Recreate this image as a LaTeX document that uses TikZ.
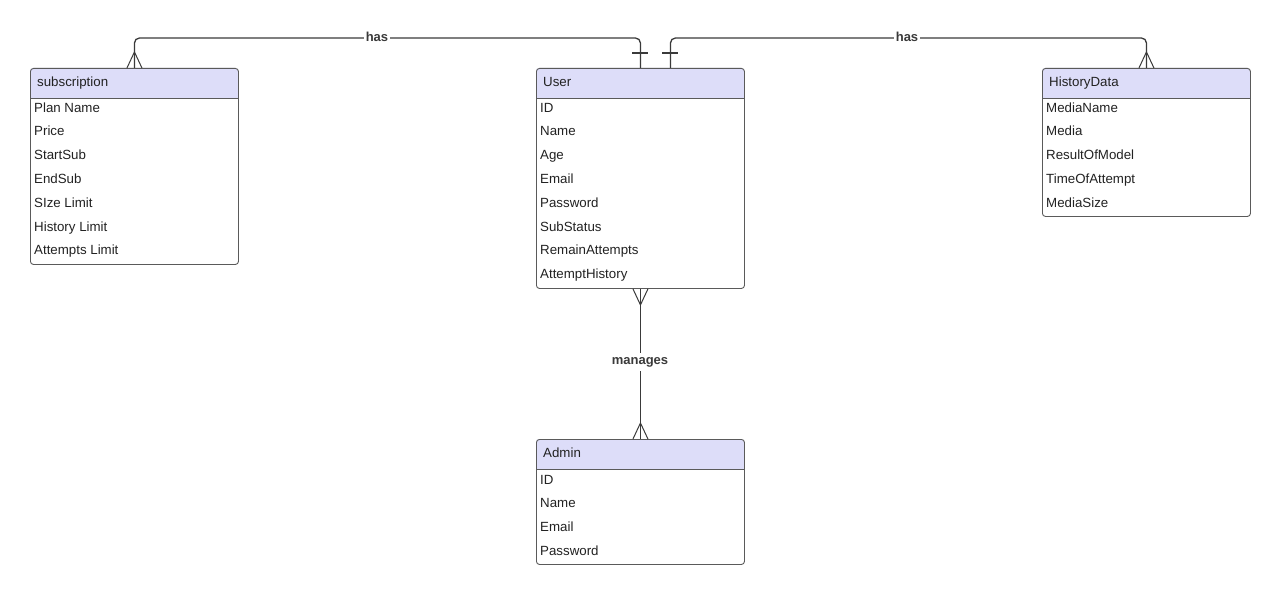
\documentclass[tikz,border=0pt]{standalone}
\usepackage{fontspec}
\setmainfont{Liberation Sans}
\usetikzlibrary{calc}
\definecolor{hdrfill}{HTML}{DDDDF9}
\definecolor{boxline}{HTML}{5A5A5A}
\definecolor{relline}{HTML}{3A3A3A}
\definecolor{txt}{HTML}{222222}
\tikzset{
  entframe/.style={draw=boxline, line width=0.9pt, rounded corners=3pt, inner sep=0pt, anchor=north west},
  headtext/.style={anchor=base west, inner sep=0pt, font=\fontsize{13.3}{15}\selectfont, text=txt},
  rowtext/.style={anchor=base west, inner sep=0pt, font=\fontsize{13.3}{15}\selectfont, text=txt},
  rel/.style={draw=relline, line width=1.3pt},
  rellabel/.style={fill=white, inner sep=1.5pt, font=\bfseries\fontsize{13}{15}\selectfont, text=relline},
}
% draws one entity box: name, left x, top y, width, bottom y
\newcommand\entitybox[5]{%
  \fill[white, rounded corners=3pt] (#2,#3) rectangle (#2+#4,#5);
  \fill[hdrfill, rounded corners=3pt] (#2,#3) rectangle (#2+#4,#3+30);
  \fill[hdrfill] (#2,#3+20) rectangle (#2+#4,#3+30);
  \draw[draw=boxline, line width=0.9pt] (#2,#3+30) -- (#2+#4,#3+30);
  \node[entframe, minimum width=#4pt, minimum height=#5pt-#3pt] (#1) at (#2,#3) {};
}
\begin{document}
\begin{tikzpicture}[x=1pt, y=-1pt]
\useasboundingbox (0,0) rectangle (1280,594);

% entities
\entitybox{sub}{30}{68}{208}{264}
\entitybox{user}{536}{68}{208}{288}
\entitybox{hist}{1042}{68}{208}{216}
\entitybox{admin}{536}{439}{208}{564}

\node[headtext] (subh) at (37,86.8) {subscription};
\node[headtext] (userh) at (543,86.8) {User};
\node[headtext] (histh) at (1049,86.8) {HistoryData};
\node[headtext] (adminh) at (543,457.8) {Admin};

\foreach \t [count=\i from 0] in {Plan Name, Price, StartSub, EndSub, SIze Limit, History Limit, Attempts Limit}
  \node[rowtext] (subr\i) at (34,112+23.8*\i) {\t};
\foreach \t [count=\i from 0] in {ID, Name, Age, Email, Password, SubStatus, RemainAttempts, AttemptHistory}
  \node[rowtext] (userr\i) at (540,112+23.8*\i) {\t};
\foreach \t [count=\i from 0] in {MediaName, Media, ResultOfModel, TimeOfAttempt, MediaSize}
  \node[rowtext] (histr\i) at (1046,112+23.8*\i) {\t};
\foreach \t [count=\i from 0] in {ID, Name, Email, Password}
  \node[rowtext] (adminr\i) at (540,484+23.8*\i) {\t};

% relationship routes
\coordinate (route) at (0,38);
\coordinate (uleft) at ($(user.north)+(0,0)$);
\coordinate (uright) at ($(user.north)+(30,0)$);

\draw[rel, rounded corners=5pt] (uleft) -- (uleft |- route) -- (sub.north |- route) -- (sub.north);
\draw[rel, rounded corners=5pt] (uright) -- (uright |- route) -- (hist.north |- route) -- (hist.north);
\draw[rel] (user.south) -- (admin.north);

% one bars at User
\draw[rel] ($(uleft)+(-8,-15)$) -- ($(uleft)+(8,-15)$);
\draw[rel] ($(uright)+(-8,-15)$) -- ($(uright)+(8,-15)$);

% crow's feet
\draw[rel, line width=1pt] ($(sub.north)+(-7.5,0)$) -- ($(sub.north)+(0,-16)$) -- ($(sub.north)+(7.5,0)$);
\draw[rel, line width=1pt] ($(hist.north)+(-7.5,0)$) -- ($(hist.north)+(0,-16)$) -- ($(hist.north)+(7.5,0)$);
\draw[rel, line width=1pt] ($(admin.north)+(-7.5,0)$) -- ($(admin.north)+(0,-16)$) -- ($(admin.north)+(7.5,0)$);
\draw[rel, line width=1pt] ($(user.south)+(-7.5,0)$) -- ($(user.south)+(0,16)$) -- ($(user.south)+(7.5,0)$);

% relationship labels
\node[rellabel] (has1) at (377,37) {has};
\node[rellabel] (has2) at (907,37) {has};
\node[rellabel, inner sep=4pt] (man) at (640,362) {manages};
\end{tikzpicture}
\end{document}
